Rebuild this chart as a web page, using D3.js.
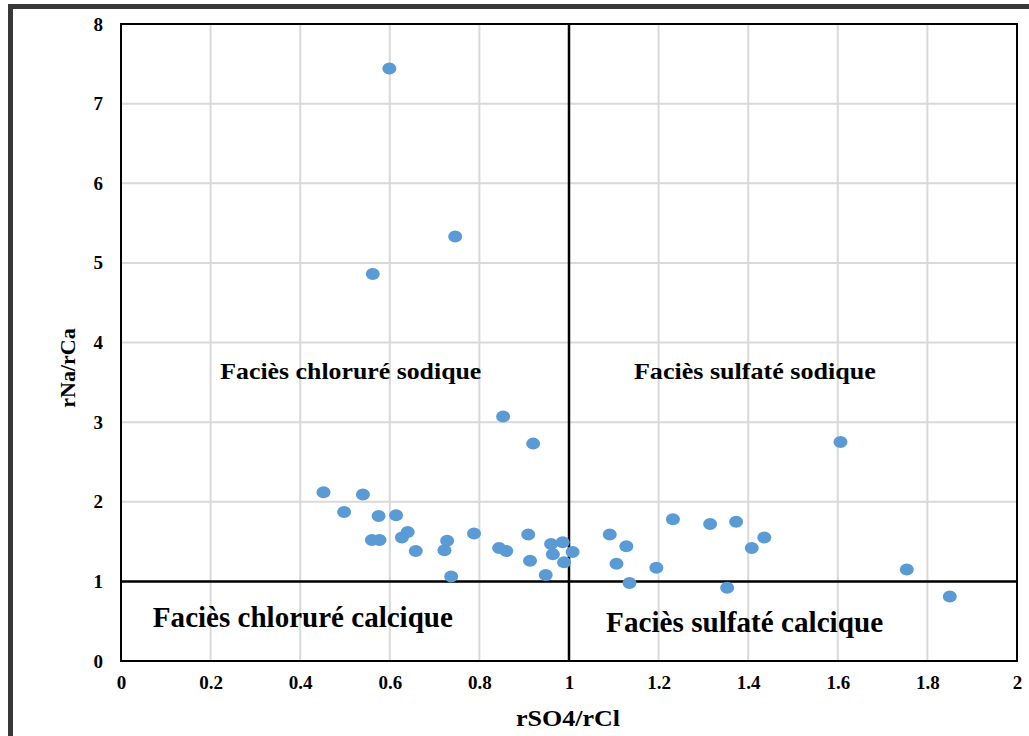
<!DOCTYPE html>
<html>
<head>
<meta charset="utf-8">
<script src="https://cdn.jsdelivr.net/npm/d3@7"></script>
<style>
  body { margin: 0; background: #fff; }
  svg text { font-family: "Liberation Serif", "Times New Roman", serif; font-weight: bold; fill: #000; }
</style>
</head>
<body>
<div id="chart"></div>
<script>
// sample points: rSO4/rCl (x) and rNa/rCa (y)
const rSO4_rCl = [0.599, 0.746, 0.562, 0.853, 0.920, 1.606,
  0.452, 0.540, 0.498, 0.575, 0.614, 0.560, 0.577, 0.627, 0.640, 0.658,
  0.722, 0.728, 0.737, 0.788, 0.844, 0.860, 0.909, 0.913, 0.948, 0.960,
  0.964, 0.986, 0.989, 1.008, 1.091, 1.128, 1.106, 1.135, 1.195, 1.232,
  1.315, 1.373, 1.436, 1.408, 1.353, 1.754, 1.850];
const rNa_rCa = [7.44, 5.33, 4.86, 3.07, 2.73, 2.75,
  2.12, 2.09, 1.87, 1.82, 1.83, 1.52, 1.52, 1.55, 1.62, 1.38,
  1.39, 1.51, 1.06, 1.60, 1.42, 1.38, 1.59, 1.26, 1.08, 1.47,
  1.34, 1.49, 1.24, 1.37, 1.59, 1.44, 1.22, 0.98, 1.17, 1.78,
  1.72, 1.75, 1.55, 1.42, 0.92, 1.15, 0.81];

const xTicks = [0, 0.2, 0.4, 0.6, 0.8, 1, 1.2, 1.4, 1.6, 1.8, 2];
const yTicks = [0, 1, 2, 3, 4, 5, 6, 7, 8];

const faciesLabels = [
  {text: 'Faciès chloruré sodique', x: 0.513, y: 3.54, big: false, len: 261},
  {text: 'Faciès sulfaté sodique', x: 1.415, y: 3.54, big: false, len: 242},
  {text: 'Faciès chloruré calcique', x: 0.406, y: 0.43, big: true, len: 300},
  {text: 'Faciès sulfaté calcique', x: 1.392, y: 0.36, big: true, len: 277}
];

const W = 1029, H = 736;
const svg = d3.select('#chart').append('svg')
    .attr('width', W)
    .attr('height', H);

// outer frame (top and left edges visible)
svg.append('path')
    .attr('d', `M10.5,${H} V6.5 H${W}`)
    .attr('fill', 'none')
    .attr('stroke', '#383838')
    .attr('stroke-width', 5);

const x = d3.scaleLinear().domain([0, 2]).range([121, 1017]);
const y = d3.scaleLinear().domain([0, 8]).range([661, 24]);

// grid
svg.append('g').selectAll('line.vg')
    .data(xTicks.filter(d => d > 0 && d < 2))
  .enter().append('line')
    .attr('x1', d => x(d)).attr('x2', d => x(d))
    .attr('y1', y(0)).attr('y2', y(8))
    .attr('stroke', '#d9d9d9').attr('stroke-width', 2);

svg.append('g').selectAll('line.hg')
    .data(yTicks.filter(d => d > 0 && d < 8))
  .enter().append('line')
    .attr('x1', x(0)).attr('x2', x(2))
    .attr('y1', d => y(d)).attr('y2', d => y(d))
    .attr('stroke', '#d9d9d9').attr('stroke-width', 2);

// plot border
svg.append('rect')
    .attr('x', x(0)).attr('y', y(8))
    .attr('width', x(2) - x(0)).attr('height', y(0) - y(8))
    .attr('fill', 'none')
    .attr('stroke', '#000').attr('stroke-width', 2);

// dividing lines
svg.append('line')
    .attr('x1', x(1)).attr('x2', x(1))
    .attr('y1', y(0)).attr('y2', y(8))
    .attr('stroke', '#000').attr('stroke-width', 2.5);
svg.append('line')
    .attr('x1', x(0)).attr('x2', x(2))
    .attr('y1', y(1)).attr('y2', y(1))
    .attr('stroke', '#000').attr('stroke-width', 2.5);

// axes (labels only)
const xAxis = d3.axisBottom(x).tickValues(xTicks).tickSize(0).tickPadding(15)
    .tickFormat(d => String(d));
const yAxis = d3.axisLeft(y).tickValues(yTicks).tickSize(0).tickPadding(18)
    .tickFormat(d => String(d));

const gx = svg.append('g').attr('transform', `translate(0,${y(0)})`).call(xAxis);
const gy = svg.append('g').attr('transform', `translate(${x(0)},0)`).call(yAxis);
[gx, gy].forEach(g => {
  g.select('.domain').remove();
  g.selectAll('text')
      .attr('font-family', '"Liberation Serif", serif')
      .attr('font-weight', 'bold')
      .attr('font-size', 19)
      .attr('fill', '#000');
});

// points
svg.append('g').selectAll('ellipse')
    .data(rSO4_rCl.map((d, i) => [d, rNa_rCa[i]]))
  .enter().append('ellipse')
    .attr('cx', d => x(d[0]))
    .attr('cy', d => y(d[1]))
    .attr('rx', 7).attr('ry', 6)
    .attr('fill', '#5b9bd5');

// facies labels
svg.append('g').selectAll('text')
    .data(faciesLabels)
  .enter().append('text')
    .attr('x', d => x(d.x))
    .attr('y', d => y(d.y))
    .attr('text-anchor', 'middle')
    .attr('font-size', d => d.big ? 29 : 23)
    .attr('textLength', d => d.len)
    .attr('lengthAdjust', 'spacingAndGlyphs')
    .text(d => d.text);

// axis titles
svg.append('text')
    .attr('x', 568).attr('y', 726)
    .attr('text-anchor', 'middle')
    .attr('font-size', 23)
    .attr('textLength', 104)
    .attr('lengthAdjust', 'spacingAndGlyphs')
    .text('rSO4/rCl');

svg.append('text')
    .attr('transform', 'translate(75,368) rotate(-90)')
    .attr('text-anchor', 'middle')
    .attr('font-size', 22)
    .text('rNa/rCa');
</script>
</body>
</html>
